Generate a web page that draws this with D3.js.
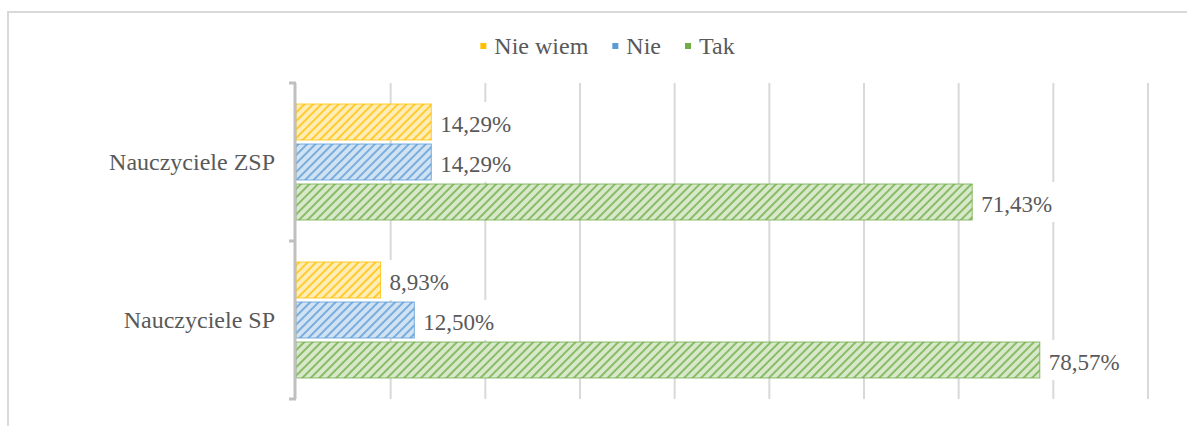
<!DOCTYPE html>
<html><head><meta charset="utf-8">
<script src="https://cdn.jsdelivr.net/npm/d3@7"></script>
<style>body{margin:0;background:#fff}svg{display:block}</style>
</head><body>
<svg id="c" width="1187" height="426"></svg>
<script>
const categories = ["Nauczyciele ZSP", "Nauczyciele SP"];
const seriesNames = ["Nie wiem", "Nie", "Tak"];
const nieWiem = [14.29, 8.93];
const nie = [14.29, 12.50];
const tak = [71.43, 78.57];
const xTicks = [10, 20, 30, 40, 50, 60, 70, 80, 90];
const colors = ["#FFC000", "#5B9BD5", "#70AD47"];

const seriesValues = [nieWiem, nie, tak];
const svg = d3.select("#c");
const font = "'Liberation Serif', 'Times New Roman', serif";
const textColor = "#595959";

// frame
svg.append("rect").attr("x", 8).attr("y", 12).attr("width", 1200).attr("height", 500)
  .attr("fill", "none").attr("stroke", "#D9D9D9").attr("stroke-width", 2);

const x = d3.scaleLinear().domain([0, 90]).range([296, 1148]);
const y = d3.scaleBand().domain(categories).range([83, 399]);
const yi = d3.scaleBand().domain(seriesNames).range([0, y.bandwidth()]).paddingInner(0.1).paddingOuter(0.525);

// patterns
const defs = svg.append("defs");
seriesNames.forEach((s, i) => {
  const c = colors[i];
  const p = defs.append("pattern").attr("id", "pat" + i).attr("patternUnits", "userSpaceOnUse")
    .attr("width", 6).attr("height", 6).attr("patternTransform", "rotate(45)");
  p.append("rect").attr("width", 6).attr("height", 6).attr("fill", d3.interpolateRgb("#ffffff", c)(0.28));
  p.append("rect").attr("x", 0).attr("width", 2).attr("height", 6).attr("fill", c).attr("opacity", 0.75);
});

// gridlines
svg.append("g").selectAll("line").data(xTicks).join("line")
  .attr("x1", d => x(d)).attr("x2", d => x(d)).attr("y1", 83).attr("y2", 399)
  .attr("stroke", "#D9D9D9").attr("stroke-width", 2);

// bars
const rows = [];
categories.forEach((cat, ci) => seriesNames.forEach((s, si) => rows.push({cat, s, si, v: seriesValues[si][ci]})));
const g = svg.append("g");
g.selectAll("rect.bar").data(rows).join("rect").attr("class", "bar")
  .attr("x", x(0)).attr("y", d => y(d.cat) + yi(d.s))
  .attr("width", d => x(d.v) - x(0)).attr("height", yi.bandwidth())
  .attr("fill", d => "url(#pat" + d.si + ")")
  .attr("stroke", d => colors[d.si]).attr("stroke-opacity", 0.8).attr("stroke-width", 1);

// labels with white background
const fmt = v => d3.format(".2f")(v).replace(".", ",") + "%";
const lg = svg.append("g");
rows.forEach(d => {
  const cy = y(d.cat) + yi(d.s) + yi.bandwidth() / 2;
  const gx = x(d.v) + 9;
  const bg = lg.append("rect").attr("fill", "#fff");
  const t = lg.append("text").attr("x", gx).attr("y", cy).attr("dy", "0.43em")
    .attr("font-family", font).attr("font-size", 23).attr("fill", textColor).text(fmt(d.v));
  const w = t.node().getComputedTextLength();
  bg.attr("x", gx - 3).attr("y", cy - 20).attr("width", w + 6).attr("height", 40);
});
lg.selectAll("text").raise();

// axis
svg.append("line").attr("x1", x(0) - 1).attr("x2", x(0) - 1).attr("y1", 83).attr("y2", 399)
  .attr("stroke", "#BFBFBF").attr("stroke-width", 3);
const tickYs = [y.range()[0]].concat(categories.map(c => y(c) + y.bandwidth()));
svg.append("g").selectAll("line").data(tickYs).join("line")
  .attr("x1", x(0) - 7).attr("x2", x(0)).attr("y1", d => d).attr("y2", d => d)
  .attr("stroke", "#BFBFBF").attr("stroke-width", 3);

// category labels
svg.append("g").selectAll("text").data(categories).join("text")
  .attr("x", x(0) - 21).attr("y", d => y(d) + y.bandwidth() / 2).attr("dy", "0.35em")
  .attr("text-anchor", "end").attr("font-family", font).attr("font-size", 24).attr("fill", textColor)
  .text(d => d);

// legend
const leg = svg.append("g");
let lx = 0;
seriesNames.forEach((s, i) => {
  leg.append("rect").attr("x", lx).attr("y", -3).attr("width", 6).attr("height", 6).attr("fill", colors[i]);
  const t = leg.append("text").attr("x", lx + 14).attr("y", 0).attr("dy", "0.35em")
    .attr("font-family", font).attr("font-size", 24).attr("fill", textColor).text(s);
  lx += 14 + t.node().getComputedTextLength() + 24;
});
lx -= 24;
leg.attr("transform", `translate(${607.5 - lx / 2},46)`);
</script>
</body></html>
